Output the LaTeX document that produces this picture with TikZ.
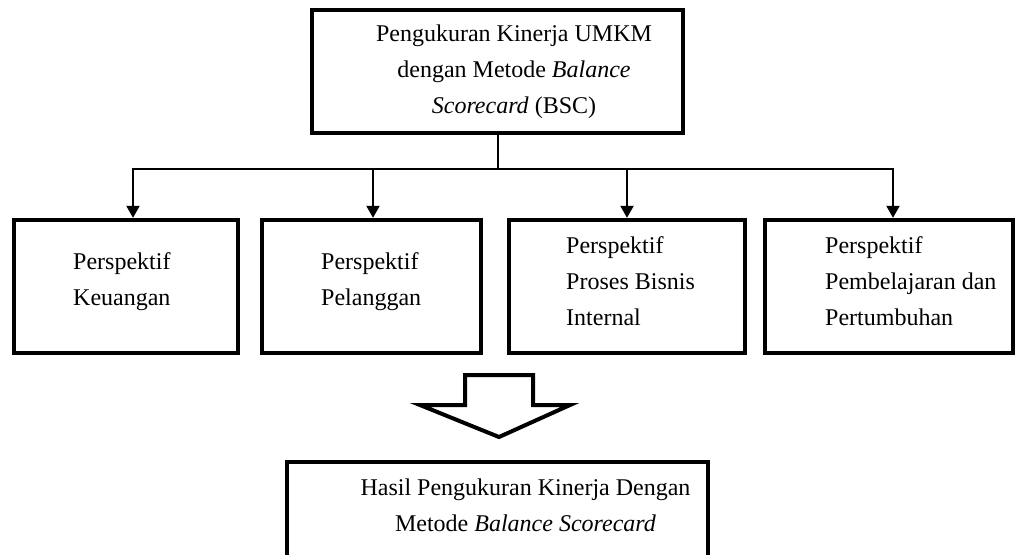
\documentclass[tikz,border=0pt]{standalone}
\usepackage{fontspec}
\setmainfont{Liberation Serif}
\usetikzlibrary{arrows.meta, positioning, calc}

\tikzset{
  box/.style={draw, line width=2.2pt, inner sep=0pt},
  txt/.style={inner sep=0pt, font=\fontsize{12}{18}\selectfont},
  link/.style={line width=1pt, -{Triangle[width=6.5pt, length=6pt]}},
}

\begin{document}
\begin{tikzpicture}[x=0.5pt, y=-0.5pt]
  \useasboundingbox (0,0) rectangle (1017,554);
  \clip (0,0) rectangle (1017,554);

  % top box
  \node[box, minimum width=185.5pt, minimum height=61.5pt] (bsc) at (497.5,71.5) {};
  \node[txt, align=center] (bsc-t) at ([xshift=8.25pt]bsc.center)
    {Pengukuran Kinerja UMKM\\dengan Metode \textit{Balance}\\\textit{Scorecard} (BSC)};

  % the four perspectives
  \node[box, minimum width=112pt, minimum height=66.5pt] (keu) at (126,286.5) {};
  \node[box, minimum width=109.5pt, minimum height=66.5pt] (pel) at (371.5,286.5) {};
  \node[box, minimum width=118pt, minimum height=66.5pt] (pbi) at (627,286.5) {};
  \node[box, minimum width=124pt, minimum height=66.5pt] (ppp) at (889,286.5) {};
  \node[txt, anchor=west, align=left] (keu-t) at ([xshift=30.5pt, yshift=2.5pt]keu.west)
    {Perspektif\\Keuangan};
  \node[txt, anchor=west, align=left] (pel-t) at ([xshift=30.5pt, yshift=2.5pt]pel.west)
    {Perspektif\\Pelanggan};
  \node[txt, anchor=west, align=left] (pbi-t) at ([xshift=29.5pt, yshift=2.5pt]pbi.west)
    {Perspektif\\Proses Bisnis\\Internal};
  \node[txt, anchor=west, align=left] (ppp-t) at ([xshift=31pt, yshift=2.5pt]ppp.west)
    {Perspektif\\Pembelajaran dan\\Pertumbuhan};

  % connectors
  \coordinate (bar) at (bsc.south |- 0,169);
  \draw[line width=1pt] (bsc.south) -- (bar);
  \foreach \p/\dx in {keu/3.5pt, pel/0.75pt, pbi/0pt, ppp/2pt}
    \draw[link] (bar) -| ([xshift=\dx]\p.north);

  % hollow arrow
  \draw[line width=2pt, line join=miter] (465,375) -- (533,375) -- (533,405) -- (570,405)
    -- (499,437) -- (420,405) -- (465,405) -- cycle;

  % result box
  \node[box, line width=2pt, minimum width=210.5pt, minimum height=69pt] (hasil) at (497.5,531) {};
  \node[txt, align=center] (hasil-t) at (525.5,505)
    {Hasil Pengukuran Kinerja Dengan\\Metode \textit{Balance Scorecard}};
\end{tikzpicture}
\end{document}
